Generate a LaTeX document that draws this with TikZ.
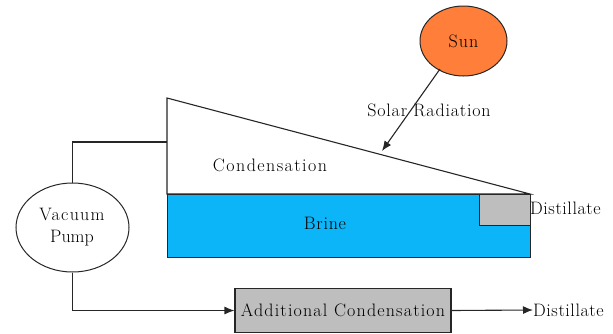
\documentclass[tikz,border=0pt]{standalone}
\usepackage{fontspec}
\setmainfont{Latin Modern Roman}
\usetikzlibrary{shapes.geometric,arrows.meta}
\definecolor{sunc}{HTML}{FF7F3A}
\definecolor{brinec}{HTML}{0CB5F7}
\definecolor{grayc}{HTML}{BEBEBE}
\newcommand{\spaced}[2]{{\addfontfeatures{LetterSpace=#1}#2}}
\tikzset{
  x=1pt,y=-1pt,
  lbl/.style={inner sep=0pt,font=\fontsize{18}{21}\selectfont,text=black,align=center},
  edge/.style={draw=black!85,line width=1.1pt},
  conn/.style={edge,-{Latex[length=10pt,width=8pt]}},
  oval/.style={ellipse,draw=black!85,line width=1pt,inner sep=0pt}
}
\begin{document}
\begin{tikzpicture}
\useasboundingbox (0,0) rectangle (613,333);
\coordinate (apex) at (167,98);
\coordinate (corner) at (167,194);
\coordinate (tip) at (530,194);
\draw[edge,fill=white] (apex) -- (corner) -- (tip) -- cycle;
\node[draw=black!85,line width=1.1pt,fill=brinec,minimum width=363pt,minimum height=63pt,inner sep=0pt,anchor=north west] (brinebox) at (167,194) {};
\node[draw=black!85,line width=1.1pt,fill=grayc,minimum width=51pt,minimum height=31pt,inner sep=0pt,anchor=north west] (collect) at (479,194) {};
\node[oval,fill=sunc,minimum width=87pt,minimum height=70pt,font=\fontsize{18}{21}\selectfont] (sun) at (463.5,41) {\spaced{6}{Sun}};
\node[oval,fill=white,minimum width=113pt,minimum height=89pt] (pump) at (72.5,227.5) {};
\node[lbl] (pumpt) at (72,227) {\spaced{7}{Vacuum}\\[1pt]Pump};
\node[draw=black!85,line width=1.1pt,fill=grayc,minimum width=216pt,minimum height=44pt,inner sep=0pt,font=\fontsize{18}{21}\selectfont] (extra) at (343,310.5) {\spaced{6.5}{Additional Condensation}};
\node[lbl] (cond) at (270,165) {\spaced{8}{Condensation}};
\node[lbl] (brine) at (325,223) {\spaced{4}{Brine}};
\node[lbl] (solar) at (429,110) {\spaced{4.5}{Solar Radiation}};
\node[lbl,anchor=west] (dist1) at (530,208.5) {\spaced{3}{Distillate}};
\node[lbl,anchor=west] (dist2) at (533,310) {\spaced{3}{Distillate}};
\coordinate (hit) at (382,151);
\coordinate (sunout) at (440,69);
\coordinate (ventin) at (167,142);
\draw[conn] (sunout) -- (hit);
\draw[edge] (pump.north) -- (pump.north |- ventin) -- (ventin);
\draw[conn] (pump.south) -- (pump.south |- extra.west) -- (extra.west);
\draw[conn] (extra.east) -- (dist2.west);
\end{tikzpicture}
\end{document}
